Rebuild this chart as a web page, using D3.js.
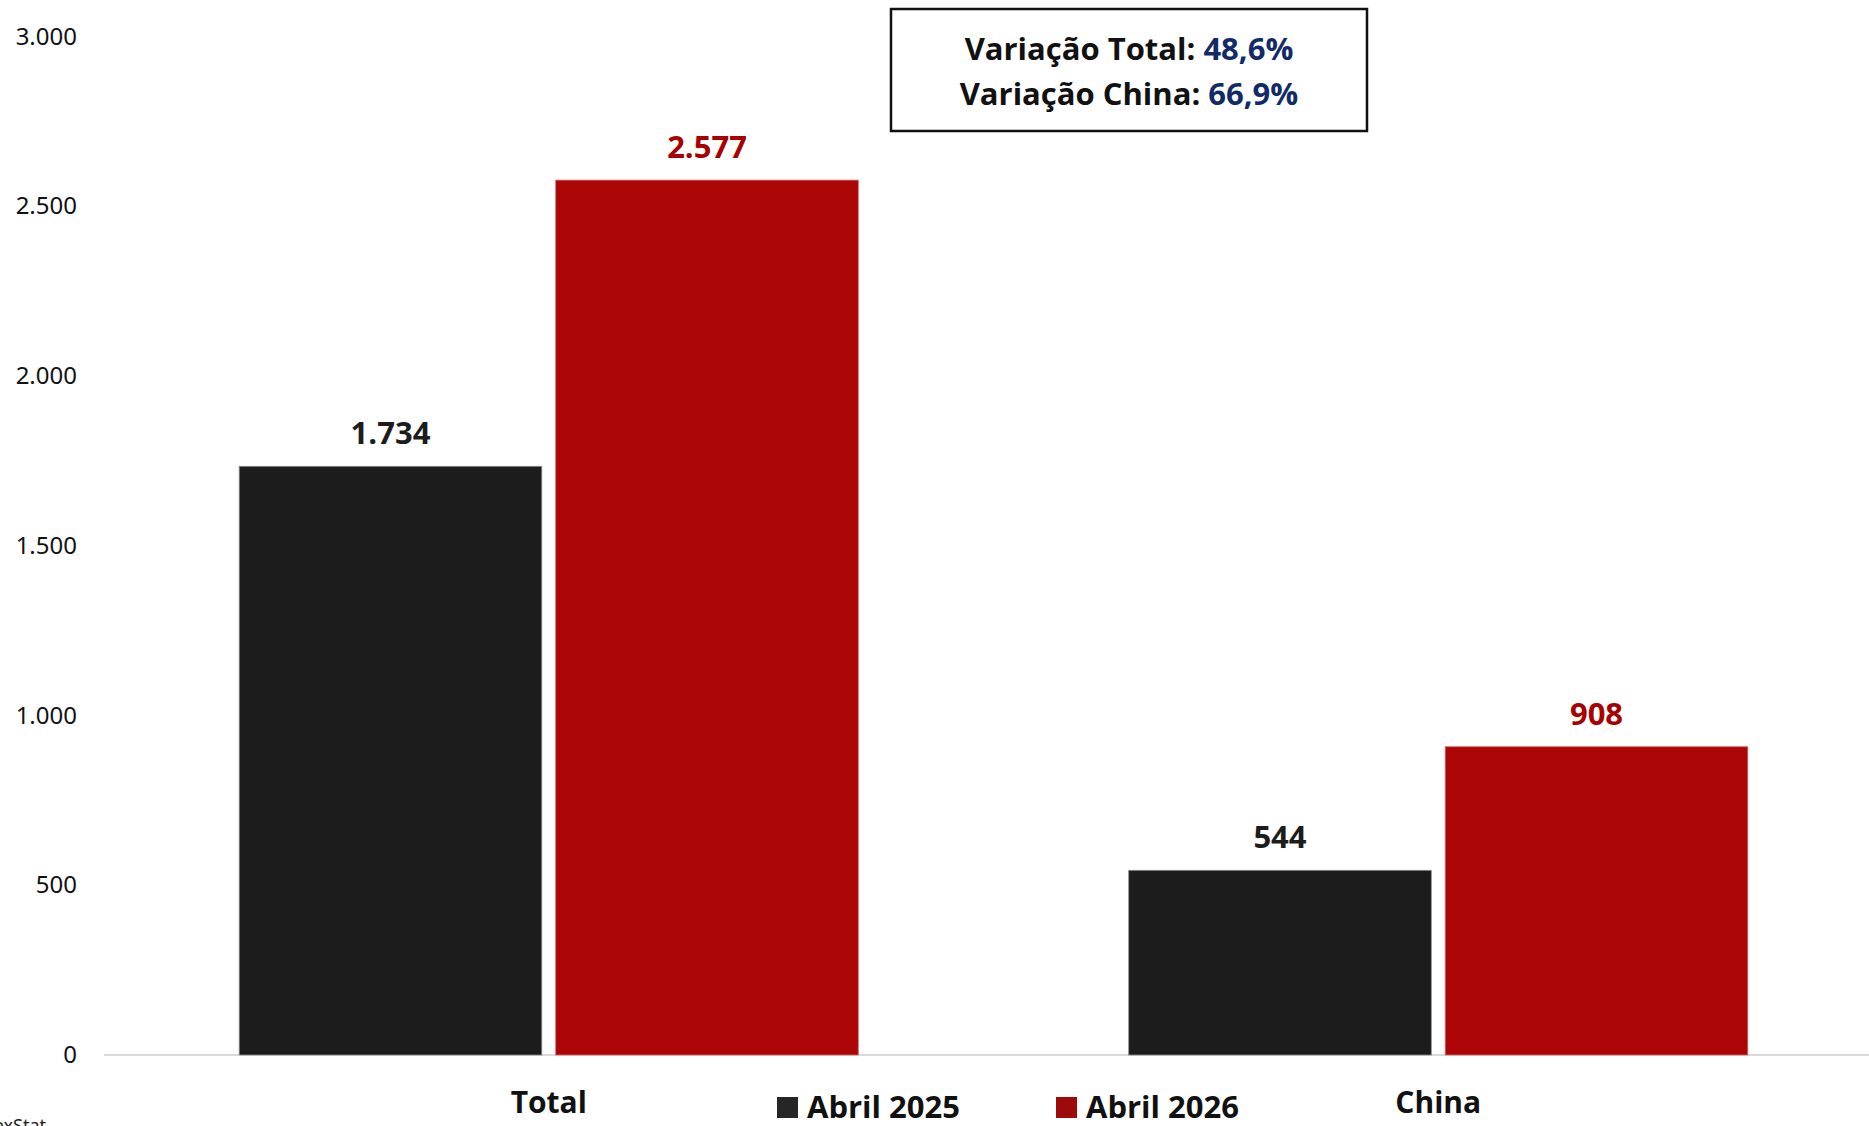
<!DOCTYPE html>
<html>
<head>
<meta charset="utf-8">
<script src="https://cdn.jsdelivr.net/npm/d3@7"></script>
<style>
  html, body { margin: 0; padding: 0; background: #fff; }
  svg { display: block; }
  .tick-label { font-family: "Noto Sans", sans-serif; font-size: 24px; fill: #111; }
  .bold { font-family: "Open Sans", "Noto Sans", sans-serif; font-weight: 700; }
</style>
</head>
<body>
<div id="chart"></div>
<script>
const categories = ["Total", "China"];
const seriesNames = ["Abril 2025", "Abril 2026"];
const values2025 = [1734, 544];
const values2026 = [2577, 908];
const yTicks = [0, 500, 1000, 1500, 2000, 2500, 3000];
const varLabels = ["Variação Total: ", "Variação China: "];
const varValues = ["48,6%", "66,9%"];

const colors = ["#1c1c1c", "#ab0505"];
const labelColors = ["#1c1c1c", "#a80000"];

const W = 1869, H = 1126;
const fmt = d3.formatLocale({ decimal: ",", thousands: ".", grouping: [3], currency: ["R$", ""] }).format(",d");

const rows = categories.map((c, i) => ({ cat: c, vals: [values2025[i], values2026[i]] }));

const x = d3.scaleBand().domain(categories).range([104, 1883]).paddingInner(0.304).paddingOuter(0.152);
const xs = d3.scaleBand().domain(seriesNames).range([0, x.bandwidth()]).paddingInner(0.044);
const y = d3.scaleLinear().domain([0, 3000]).range([1055, 36.5]);

const svg = d3.select("#chart").append("svg").attr("width", W).attr("height", H);

// y axis labels (no axis line, no ticks)
const yAxis = svg.append("g")
    .attr("transform", "translate(77,0)")
    .call(d3.axisLeft(y).tickValues(yTicks).tickSize(0).tickPadding(0).tickFormat(fmt));
yAxis.select(".domain").remove();
yAxis.selectAll("text").attr("class", "tick-label").attr("fill", null);

// baseline
svg.append("line")
    .attr("x1", 104).attr("x2", W)
    .attr("y1", y(0)).attr("y2", y(0))
    .attr("stroke", "#d9d9d9").attr("stroke-width", 2);

const groups = svg.selectAll("g.grp").data(rows).enter().append("g")
    .attr("class", "grp")
    .attr("transform", d => "translate(" + x(d.cat) + ",0)");

const bars = groups.selectAll("g.bar")
    .data(d => d.vals.map((v, j) => ({ v: v, s: seriesNames[j], j: j })))
    .enter().append("g").attr("class", "bar");

bars.append("rect")
    .attr("x", d => xs(d.s))
    .attr("width", xs.bandwidth())
    .attr("y", d => y(d.v))
    .attr("height", d => y(0) - y(d.v))
    .attr("fill", d => colors[d.j])
    .attr("stroke", d => d.j === 0 ? "#8a8a8a" : "#d46a6a")
    .attr("stroke-width", 0.8);

bars.append("text")
    .attr("class", "bold")
    .attr("x", d => xs(d.s) + xs.bandwidth() / 2)
    .attr("y", d => y(d.v) - 22)
    .attr("text-anchor", "middle")
    .attr("font-size", 31)
    .attr("fill", d => labelColors[d.j])
    .text(d => fmt(d.v));

// category labels
svg.selectAll("text.cat").data(categories).enter().append("text")
    .attr("class", "cat bold")
    .attr("x", d => x(d) + x.bandwidth() / 2)
    .attr("y", 1113)
    .attr("text-anchor", "middle")
    .attr("font-size", 30)
    .attr("fill", "#111")
    .text(d => d);

// legend
const legX = [777, 1056];
const leg = svg.selectAll("g.leg").data(seriesNames).enter().append("g")
    .attr("class", "leg")
    .attr("transform", (d, i) => "translate(" + legX[i] + ",1097)");
leg.append("rect").attr("width", 21).attr("height", 21)
    .attr("fill", (d, i) => i === 0 ? "#262626" : "#9c0a0a");
leg.append("text")
    .attr("class", "bold")
    .attr("x", 30).attr("y", 21)
    .attr("font-size", 31)
    .attr("fill", "#111")
    .text(d => d);

// variation box
svg.append("rect")
    .attr("x", 891).attr("y", 9)
    .attr("width", 476).attr("height", 122)
    .attr("fill", "#fff").attr("stroke", "#111").attr("stroke-width", 2.5);

const vt = svg.selectAll("text.var").data(varLabels).enter().append("text")
    .attr("class", "var bold")
    .attr("x", 1129)
    .attr("y", (d, i) => 60 + i * 45)
    .attr("text-anchor", "middle")
    .attr("font-size", 31)
    .attr("fill", "#111");
vt.append("tspan").text(d => d);
vt.append("tspan").attr("fill", "#132a68").text((d, i) => varValues[i]);

// source text, cut off at the bottom edge
svg.append("text")
    .attr("x", 46).attr("y", 1132)
    .attr("text-anchor", "end")
    .attr("font-family", "'Noto Sans', sans-serif")
    .attr("font-size", 18)
    .attr("fill", "#222")
    .text("Fonte: ComexStat");
</script>
</body>
</html>
